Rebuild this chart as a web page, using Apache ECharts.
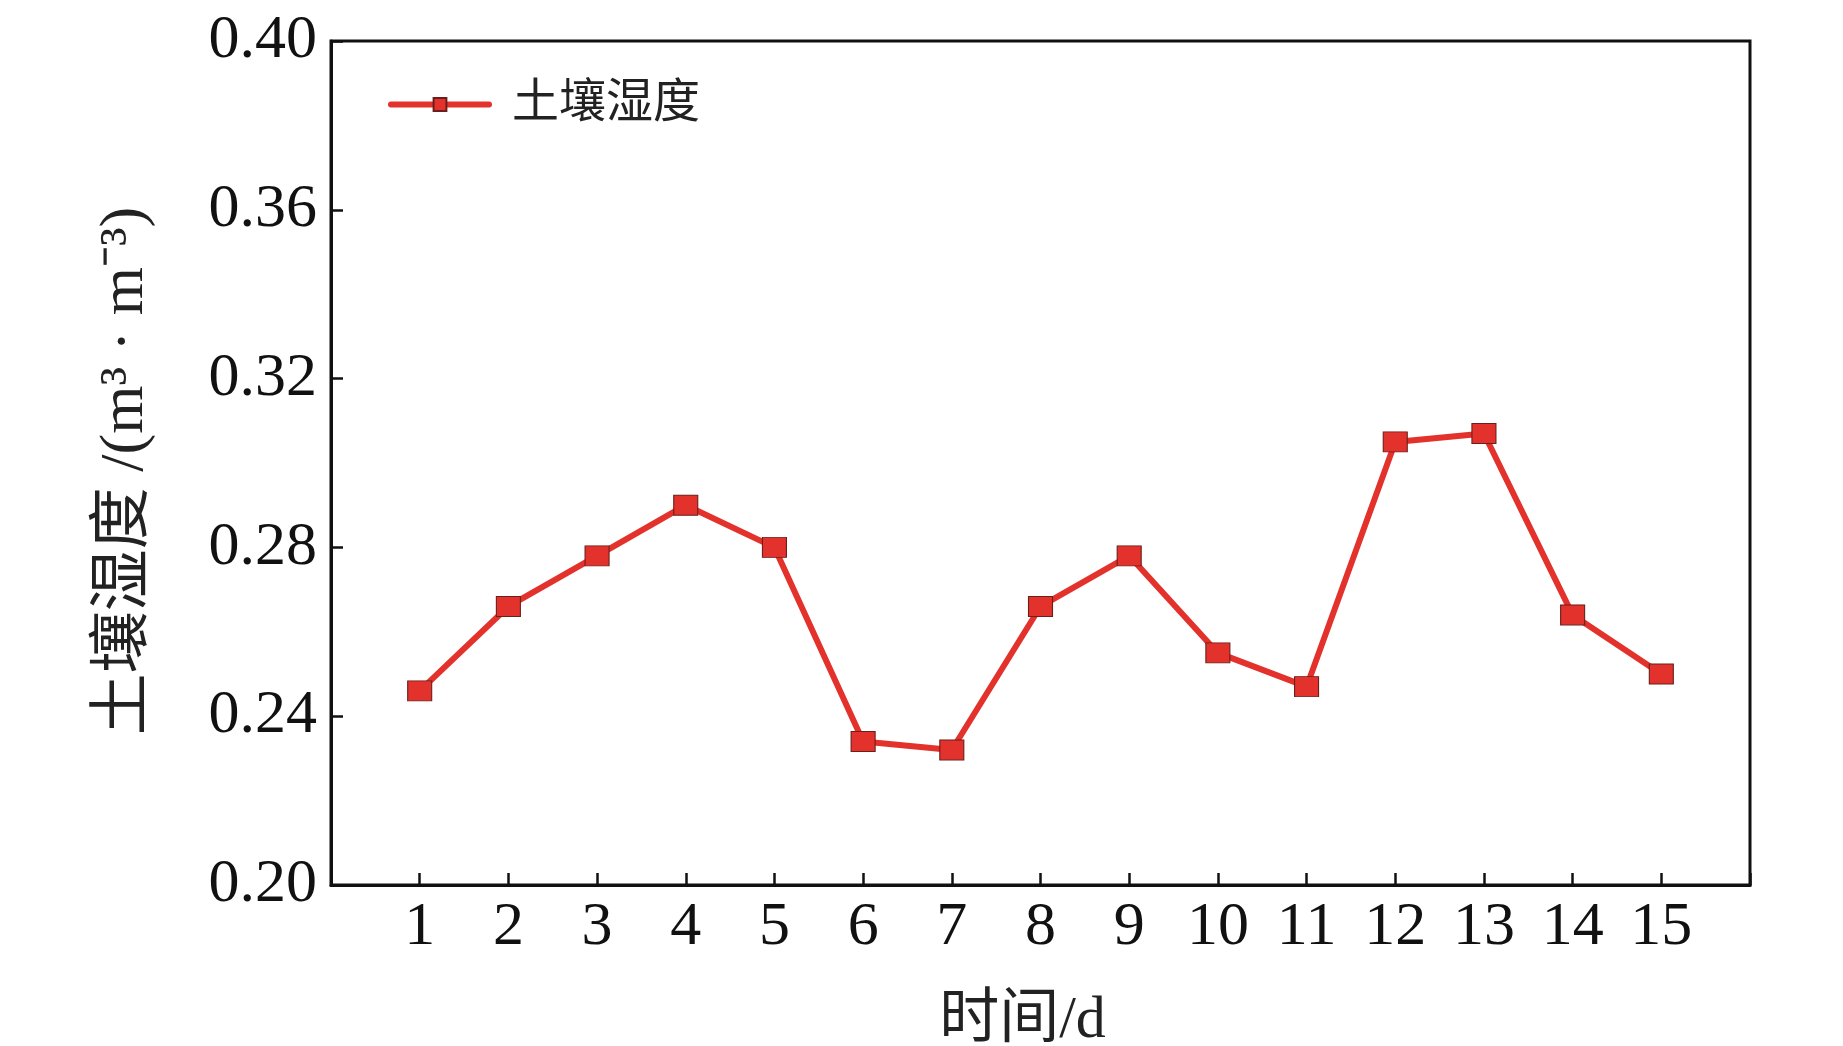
<!DOCTYPE html>
<html>
<head>
<meta charset="utf-8">
<script src="https://cdn.jsdelivr.net/npm/echarts@6/dist/echarts.min.js"></script>
<style>
html,body{margin:0;padding:0;background:#fff;}
#chart{width:1843px;height:1046px;}
</style>
</head>
<body>
<div id="chart"></div>
<script>
const days = [1, 2, 3, 4, 5, 6, 7, 8, 9, 10, 11, 12, 13, 14, 15];
const soilMoisture = [0.246, 0.266, 0.278, 0.290, 0.280, 0.234, 0.232, 0.266, 0.278, 0.255, 0.247, 0.305, 0.307, 0.264, 0.250];
const seriesName = '土壤湿度';
const xName = '时间/d';
const yName = '土壤湿度 /(m³ · m⁻³)';

const FONT = '"Liberation Serif", "Noto Sans CJK SC", serif';
const chart = echarts.init(document.getElementById('chart'), null, {renderer: 'canvas'});
chart.setOption({
  backgroundColor: '#ffffff',
  animation: false,
  grid: {
    left: 331, right: 93, top: 41, bottom: 161,
    outerBoundsMode: 'none', containLabel: false,
    show: true, borderColor: '#111', borderWidth: 3, backgroundColor: 'transparent'
  },
  legend: {
    left: 383, top: 76,
    itemWidth: 98, itemHeight: 16,
    lineStyle: {width: 6, cap: 'round'},
    textStyle: {fontFamily: FONT, fontSize: 47, color: '#222', padding: [0, 0, 0, 18]},
    data: [seriesName]
  },
  xAxis: {
    type: 'value', min: 0, max: 16, interval: 1,
    name: xName, nameLocation: 'middle', nameGap: 106,
    nameTextStyle: {fontFamily: FONT, fontSize: 60, color: '#222', padding: [0, 36, 0, 0]},
    axisLine: {show: true, lineStyle: {color: '#111', width: 3}},
    axisTick: {show: true, inside: true, length: 12, lineStyle: {color: '#111', width: 2.5}},
    axisLabel: {
      fontFamily: FONT, fontSize: 62, color: '#111', margin: 12,
      formatter: v => (v >= 1 && v <= 15) ? String(v) : ''
    },
    splitLine: {show: false}
  },
  yAxis: {
    type: 'value', min: 0.20, max: 0.40, interval: 0.04,
    name: yName, nameLocation: 'middle', nameGap: 174, nameRotate: 90,
    nameTextStyle: {fontFamily: FONT, fontSize: 62, color: '#222', padding: [0, 16, 0, 0]},
    axisLine: {show: true, lineStyle: {color: '#111', width: 3}},
    axisTick: {show: true, inside: true, length: 12, lineStyle: {color: '#111', width: 2.5}},
    axisLabel: {
      fontFamily: FONT, fontSize: 62, color: '#111', margin: 14,
      formatter: v => v.toFixed(2)
    },
    splitLine: {show: false}
  },
  series: [{
    name: seriesName,
    type: 'line',
    data: days.map((d, i) => [d, soilMoisture[i]]),
    symbol: 'rect',
    symbolSize: [24, 20],
    lineStyle: {color: '#e3312b', width: 6},
    itemStyle: {color: '#e3312b', borderColor: '#6a1f1c', borderWidth: 1},
    z: 3
  }]
});
</script>
</body>
</html>
